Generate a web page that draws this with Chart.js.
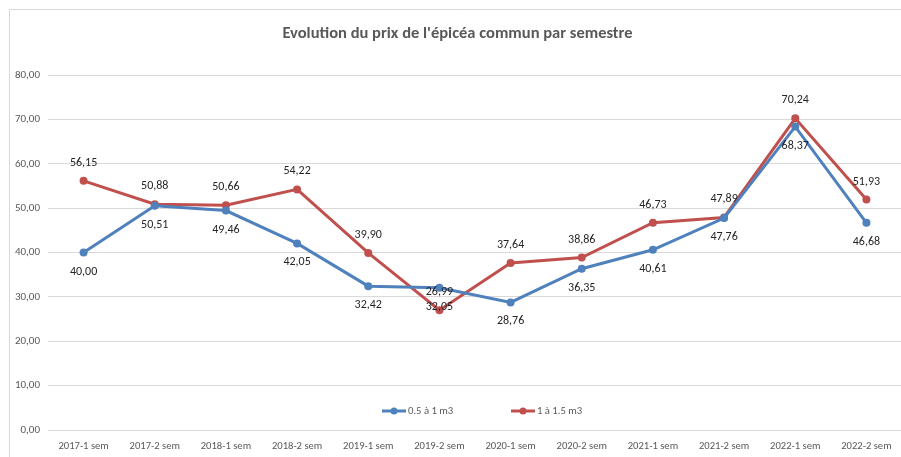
<!DOCTYPE html>
<html>
<head>
<meta charset="utf-8">
<script src="https://cdn.jsdelivr.net/npm/chart.js@4/dist/chart.umd.min.js"></script>
<style>
html,body{margin:0;padding:0;background:#fff;overflow:hidden;}
#wrap{position:absolute;left:0;top:0;width:901px;height:457px;overflow:hidden;}
#c{position:absolute;left:0;top:0;}
</style>
</head>
<body>
<div id="wrap"><canvas id="c" width="915" height="457"></canvas></div>
<script>
const categories = ["2017-1 sem","2017-2 sem","2018-1 sem","2018-2 sem","2019-1 sem","2019-2 sem","2020-1 sem","2020-2 sem","2021-1 sem","2021-2 sem","2022-1 sem","2022-2 sem"];
const seriesSmall = [40.00,50.51,49.46,42.05,32.42,32.05,28.76,36.35,40.61,47.76,68.37,46.68];
const seriesLarge = [56.15,50.88,50.66,54.22,39.90,26.99,37.64,38.86,46.73,47.89,70.24,51.93];
const seriesNames = ["0.5 à 1 m3","1 à 1.5 m3"];
const titleText = "Evolution du prix de l'épicéa commun par semestre";

const FONT = "Carlito,'Liberation Sans',sans-serif";
const BLUE = "#4F81BD", RED = "#C0504D";
const fmt = v => v.toFixed(2).replace('.', ',');

const frame = {
  id:'frame',
  beforeDraw(chart){
    const ctx = chart.ctx;
    ctx.save();
    ctx.strokeStyle = '#d9d9d9';
    ctx.lineWidth = 1;
    ctx.beginPath();
    ctx.moveTo(9.5, 470); ctx.lineTo(9.5, 9.5); ctx.lineTo(940, 9.5);
    ctx.stroke();
    ctx.restore();
  }
};

const labels = {
  id:'valueLabels',
  afterDatasetsDraw(chart){
    const ctx = chart.ctx;
    ctx.save();
    ctx.font = "12px " + FONT;
    ctx.fillStyle = '#262626';
    ctx.textAlign = 'center';
    ctx.textBaseline = 'middle';
    chart.data.datasets.forEach((ds, i) => {
      const meta = chart.getDatasetMeta(i);
      const off = i === 0 ? 19 : -18;
      meta.data.forEach((pt, j) => {
        ctx.fillText(fmt(ds.data[j]), pt.x, pt.y + off);
      });
    });
    ctx.restore();
  }
};

const legendIn = {
  id:'legendIn',
  afterDatasetsDraw(chart){
    const ctx = chart.ctx, a = chart.chartArea;
    const y = a.bottom - 19;
    const starts = [382, 511];
    ctx.save();
    ctx.font = "10.7px " + FONT;
    ctx.textBaseline = 'middle';
    ctx.textAlign = 'left';
    chart.data.datasets.forEach((ds, i) => {
      const x = starts[i];
      ctx.strokeStyle = ds.borderColor;
      ctx.lineWidth = 3;
      ctx.beginPath(); ctx.moveTo(x, y); ctx.lineTo(x + 24, y); ctx.stroke();
      ctx.fillStyle = ds.borderColor;
      ctx.beginPath(); ctx.arc(x + 12, y, 3.5, 0, Math.PI * 2); ctx.fill();
      ctx.fillStyle = '#595959';
      ctx.fillText(ds.label, x + 26, y);
    });
    ctx.restore();
  }
};

new Chart(document.getElementById('c'), {
  type:'line',
  data:{
    labels: categories,
    datasets:[
      {label:seriesNames[0], data:seriesSmall, borderColor:BLUE, backgroundColor:BLUE, borderWidth:3, pointRadius:4, pointBackgroundColor:BLUE, pointBorderWidth:0, tension:0},
      {label:seriesNames[1], data:seriesLarge, borderColor:RED, backgroundColor:RED, borderWidth:3, pointRadius:4, pointBackgroundColor:RED, pointBorderWidth:0, tension:0}
    ]
  },
  options:{
    responsive:false,
    animation:false,
    layout:{padding:0},
    plugins:{
      legend:{display:false},
      tooltip:{enabled:false},
      title:{display:true, text:titleText, color:'#595959', font:{family:FONT, size:16.5, weight:'bold', lineHeight:1.2}, padding:{top:24, bottom:31.2}}
    },
    scales:{
      x:{
        offset:true,
        grid:{display:false, drawTicks:false},
        border:{display:false},
        ticks:{color:'#595959', font:{family:FONT, size:10.6}, padding:10, maxRotation:0, autoSkip:false},
        afterFit(s){ s.height = 27; }
      },
      y:{
        min:0, max:80,
        grid:{color:'#d9d9d9', lineWidth:1, drawTicks:false},
        border:{display:false},
        ticks:{stepSize:10, color:'#595959', font:{family:FONT, size:11}, padding:8, callback:v => fmt(v)},
        afterFit(s){ s.width = 48; }
      },
      yRight:{
        position:'right',
        min:0, max:80,
        grid:{display:false, drawTicks:false},
        border:{display:false},
        ticks:{display:false},
        afterFit(s){ s.width = 13; }
      }
    }
  },
  plugins:[frame, labels, legendIn]
});
</script>
</body>
</html>
